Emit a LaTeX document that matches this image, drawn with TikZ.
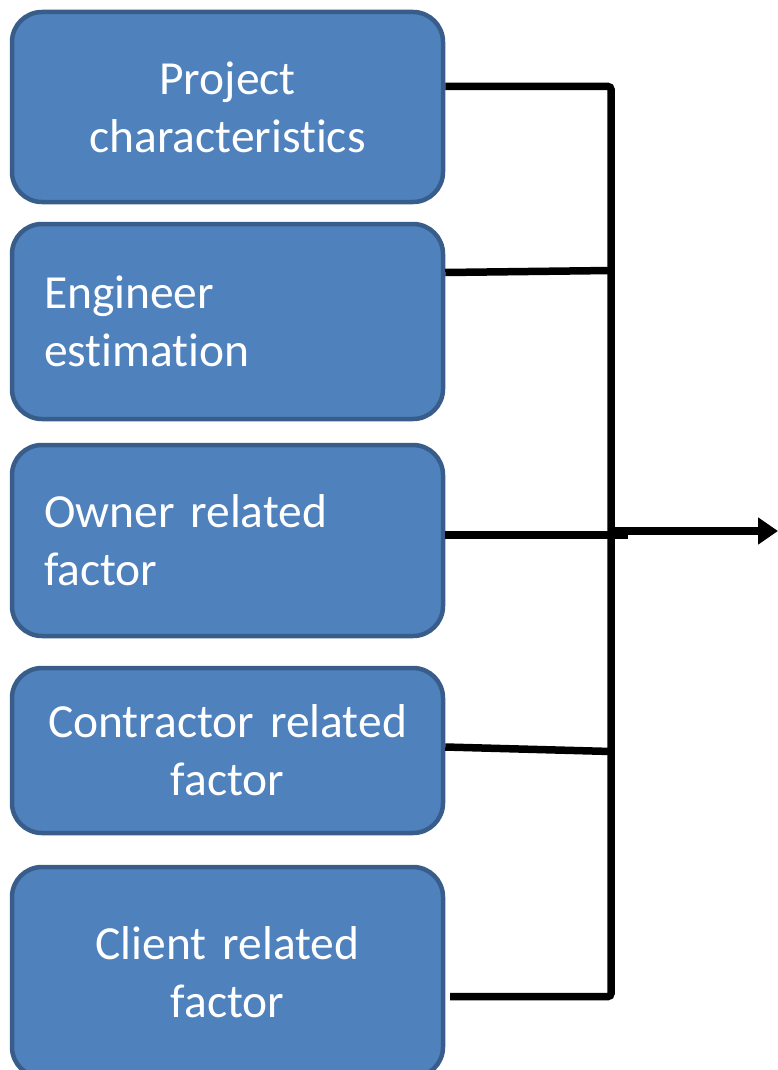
\documentclass[tikz,border=0pt]{standalone}
\usepackage{fontspec}
\setmainfont[Ligatures=NoCommon, WordSpace=0.85]{Carlito}
\usetikzlibrary{arrows.meta}
\definecolor{boxfill}{HTML}{4F81BD}
\definecolor{boxline}{HTML}{385D8A}
\begin{document}
\begin{tikzpicture}[x=1pt,y=-1pt,
  factor/.style={draw=boxline, line width=4.5pt, fill=boxfill, rounded corners=30pt,
    text=white, font=\fontsize{47.5}{58}\selectfont, inner xsep=32pt, inner ysep=0pt,
    text width=367pt, minimum width=431pt},
  conn/.style={line width=7.5pt, draw=black}]
\useasboundingbox (0,0) rectangle (778,1070);
\node[factor, align=center, minimum height=190pt] (b1) at (227.5,107) {Project\\characteristics};
\node[factor, align=left, minimum height=195pt] (b2) at (227.5,321.5) {Engineer\\estimation};
\node[factor, align=left, minimum height=191pt] (b3) at (227.5,540.5) {Owner related\\factor};
\node[factor, align=center, minimum height=165pt] (b4) at (227.5,750.5) {Contractor related\\factor};
\node[factor, align=center, minimum height=210pt] (b5) at (227.5,972) {Client related\\factor};
\coordinate (j1) at (611,86.5);
\coordinate (j2) at (611,270.5);
\coordinate (j3) at (611,535);
\coordinate (j3e) at (628,535);
\coordinate (j3a) at (611,531);
\coordinate (j4) at (611,751.5);
\coordinate (j5) at (611,996.5);
\coordinate (s5) at (450,996.5);
\coordinate (tip) at (778,531);
\draw[conn, rounded corners=3pt] (b1.east |- j1) -- (j1) -- (j5) -- (s5);
\draw[conn] ([yshift=-2pt]b2.east |- j2) -- (j2);
\draw[conn] (b3.east |- j3) -- (j3e);
\draw[conn] ([yshift=4.5pt]b4.east |- j4) -- (j4);
\draw[conn, -{Triangle[length=20pt,width=26pt]}] (j3a) -- (tip);
\end{tikzpicture}
\end{document}
